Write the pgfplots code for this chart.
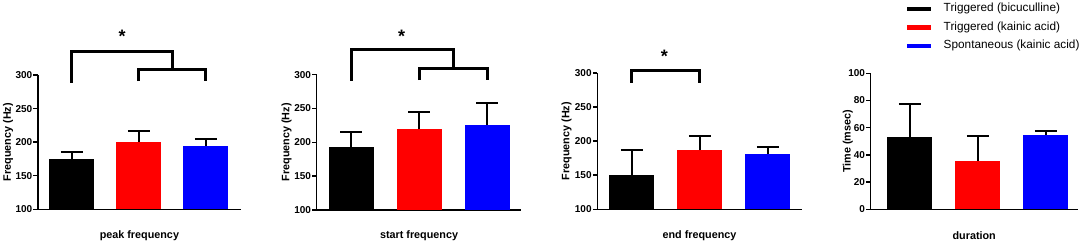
\documentclass[border=0pt]{standalone}
\usepackage{pgfplots}
\pgfplotsset{compat=1.18}
\usepackage{fontspec}
\setmainfont{Liberation Sans}
\pgfplotsset{
  panel/.style={
    clip mode=individual,
    axis x line*=bottom, axis y line*=left,
    axis line style={line width=1.5pt,-},
    xtick=\empty,
    tick align=outside, major tick length=4.5pt,
    ytick style={line width=1.5pt,black},
    /pgf/number format/assume math mode=true,
    yticklabel style={font=\bfseries\fontsize{10}{10}\selectfont, inner sep=1pt},
    label style={font=\bfseries\fontsize{10.8}{11}\selectfont},
    xlabel style={at={(axis description cs:0.5,0)}, anchor=center, yshift=-26pt},
    anchor=south west,
  },
  bar/.style={ybar, bar width=45pt, bar shift=0pt, draw=none, fill=#1,
    error bars/.cd, y dir=plus, y explicit, error mark=|,
    error bar style={draw=black, line width=2pt},
    error mark options={draw=black, line width=2pt, mark size=11pt}},
}
\tikzset{
  brk/.style={line width=3pt, line join=miter, line cap=butt},
  star/.style={font=\bfseries\fontsize{18}{18}\selectfont, anchor=base, inner sep=0pt},
}
\begin{document}
\begin{tikzpicture}
\useasboundingbox (0,0) rectangle (1084pt,244pt);
% Panel 1
\begin{axis}[panel, at={(38pt,34.7pt)}, x=67pt, y=0.6715pt,
  xmin=-0.507, xmax=2.52, ymin=100, ymax=300, ytick={100,150,...,300},
  xlabel={peak frequency}, ylabel={Frequency (Hz)},
  ylabel style={at={(axis description cs:-0.148,0.5)}, anchor=center}]
\addplot[bar=black] coordinates {(0,175.5) +- (0,10.5)};
\addplot[bar=red] coordinates {(1,200.4) +- (0,15.6)};
\addplot[bar=blue] coordinates {(2,195) +- (0,10)};
\draw[brk] (axis cs:0,288.5) -- (axis cs:0,334.7) -- (axis cs:1.5,334.7) -- (axis cs:1.5,308.5);
\draw[brk] (axis cs:1,291) -- (axis cs:1,308.5) -- (axis cs:2,308.5) -- (axis cs:2,291);
\node[star] at (axis cs:0.75,348) {*};
\end{axis}
% Panel 2
\begin{axis}[panel, at={(316.7pt,34pt)}, x=68pt, y=0.6765pt,
  xmin=-0.51, xmax=2.5, ymin=100, ymax=300, ytick={100,150,...,300},
  xlabel={start frequency}, ylabel={Frequency (Hz)},
  ylabel style={at={(axis description cs:-0.147,0.5)}, anchor=center}]
\addplot[bar=black] coordinates {(0,192.7) +- (0,22.3)};
\addplot[bar=red] coordinates {(1,219) +- (0,26)};
\addplot[bar=blue] coordinates {(2,225.6) +- (0,32.4)};
\draw[brk] (axis cs:0,290.7) -- (axis cs:0,337.5) -- (axis cs:1.5,337.5) -- (axis cs:1.5,309.5);
\draw[brk] (axis cs:1,292) -- (axis cs:1,309.5) -- (axis cs:2,309.5) -- (axis cs:2,292);
\node[star] at (axis cs:0.74,347) {*};
\end{axis}
% Panel 3
\begin{axis}[panel, at={(597.3pt,34.7pt)}, x=68pt, y=0.6815pt,
  xmin=-0.507, xmax=2.5, ymin=100, ymax=300, ytick={100,150,...,300},
  xlabel={end frequency}, ylabel={Frequency (Hz)},
  ylabel style={at={(axis description cs:-0.15,0.5)}, anchor=center}]
\addplot[bar=black] coordinates {(0,150.8) +- (0,36.7)};
\addplot[bar=red] coordinates {(1,186.6) +- (0,20.9)};
\addplot[bar=blue] coordinates {(2,181) +- (0,10.4)};
\draw[brk] (axis cs:0,285.8) -- (axis cs:0,303) -- (axis cs:1,303) -- (axis cs:1,285.8);
\node[star] at (axis cs:0.48,315) {*};
\end{axis}
% Panel 4
\begin{axis}[panel, at={(870.7pt,34.7pt)}, x=68pt, y=1.36pt,
  xmin=-0.575, xmax=2.47, ymin=0, ymax=100, ytick={0,20,...,100},
  xlabel={duration}, ylabel={Time (msec)},
  ylabel style={at={(axis description cs:-0.11,0.5)}, anchor=center},
  legend cell align=left,
  legend image code/.code={\fill (0pt,-2.4pt) rectangle (24pt,2.4pt);},
  legend style={at={(rel axis cs:0.174,1.528)}, anchor=north west, draw=none, fill=none,
    inner sep=0pt, outer sep=0pt, row sep=3.5pt,
    font=\fontsize{11.8}{12}\selectfont,
    nodes={text height=8.5pt, text depth=2.5pt, inner sep=2pt},
    /tikz/every odd column/.append style={column sep=11pt}}]
\addplot[bar=black] coordinates {(0,53.4) +- (0,24.2)};
\addplot[bar=red] coordinates {(1,35.7) +- (0,18)};
\addplot[bar=blue] coordinates {(2,54.9) +- (0,2.5)};
\legend{Triggered (bicuculline),Triggered (kainic acid),Spontaneous (kainic acid)}
\end{axis}
\end{tikzpicture}
\end{document}
